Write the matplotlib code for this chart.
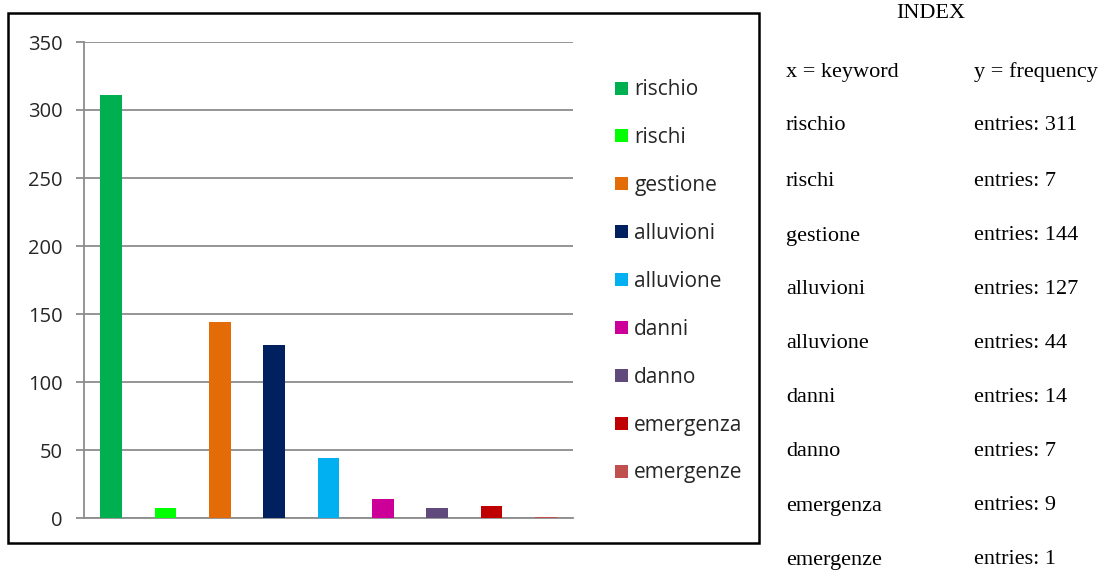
import matplotlib
matplotlib.use("Agg")
import matplotlib.pyplot as plt
from matplotlib.patches import Rectangle

# Keyword frequencies
keywords = ["rischio", "rischi", "gestione", "alluvioni", "alluvione",
            "danni", "danno", "emergenza", "emergenze"]
counts = [311, 7, 144, 127, 44, 14, 7, 9, 1]
bar_colors = ["#00B050", "#00FF00", "#E36C09", "#002060", "#00B0F0",
              "#CC0099", "#604A7B", "#C00000", "#C0504D"]
y_ticks = [0, 50, 100, 150, 200, 250, 300, 350]

W, H = 1110, 572
fig = plt.figure(figsize=(W / 100, H / 100), dpi=100)
fig.patch.set_facecolor("white")

def fx(px):
    return px / W

def fy(py):
    return 1 - py / H

# Chart frame
fig.add_artist(Rectangle((fx(8), fy(543)), fx(759) - fx(8), fy(13) - fy(543),
                         transform=fig.transFigure, fill=False,
                         edgecolor="black", linewidth=1.8))

ax = fig.add_axes([fx(84), fy(518), fx(573) - fx(84), fy(42) - fy(518)])
grid_c = "#8C8C8C"
xs = list(range(len(keywords)))
bars = ax.bar(xs, counts, width=0.4, color=bar_colors, zorder=3)
for b, lab in zip(bars, keywords):
    b.set_label(lab)

ax.set_xlim(-0.5, len(keywords) - 0.5)
ax.set_ylim(0, 350)
ax.set_yticks(y_ticks)
ax.set_yticklabels([str(t) for t in y_ticks])
ax.set_xticks([])
ax.yaxis.grid(True, color=grid_c, linewidth=1.3, zorder=0)
for s in ["top", "right"]:
    ax.spines[s].set_visible(False)
ax.spines["left"].set_color(grid_c)
ax.spines["left"].set_linewidth(1.3)
ax.spines["bottom"].set_color(grid_c)
ax.spines["bottom"].set_linewidth(1.3)
ax.tick_params(axis="y", length=5.5, width=1.3, color=grid_c, pad=10,
               labelsize=14.5, labelcolor="#262626")
for t in ax.get_yticklabels():
    t.set_family("Open Sans")

leg = fig.legend(handles=list(bars), loc="upper left",
                 bbox_to_anchor=(fx(605), fy(69)), frameon=False,
                 prop={"family": "Open Sans", "size": 15},
                 handlelength=0.58, handleheight=0.58, handletextpad=0.32,
                 labelspacing=1.29, borderpad=0)
for t in leg.get_texts():
    t.set_color("#262626")

# Index table on the right
serif = "Liberation Serif"
fs = 16
fig.text(fx(931), fy(14), "INDEX", ha="center", va="center",
         family=serif, fontsize=fs)
rows_y = [72, 126, 182, 236, 290, 343, 397, 451, 506, 560]
fig.text(fx(786), fy(rows_y[0]), "x = keyword", ha="left", va="center",
         family=serif, fontsize=fs)
fig.text(fx(974), fy(rows_y[0]), "y = frequency", ha="left", va="center",
         family=serif, fontsize=fs)
for yy, kw, c in zip(rows_y[1:], keywords, counts):
    fig.text(fx(786), fy(yy), kw, ha="left", va="center",
             family=serif, fontsize=fs)
    fig.text(fx(974), fy(yy), f"entries: {c}", ha="left", va="center",
             family=serif, fontsize=fs)

fig.savefig("out.png", dpi=100, facecolor="white")
